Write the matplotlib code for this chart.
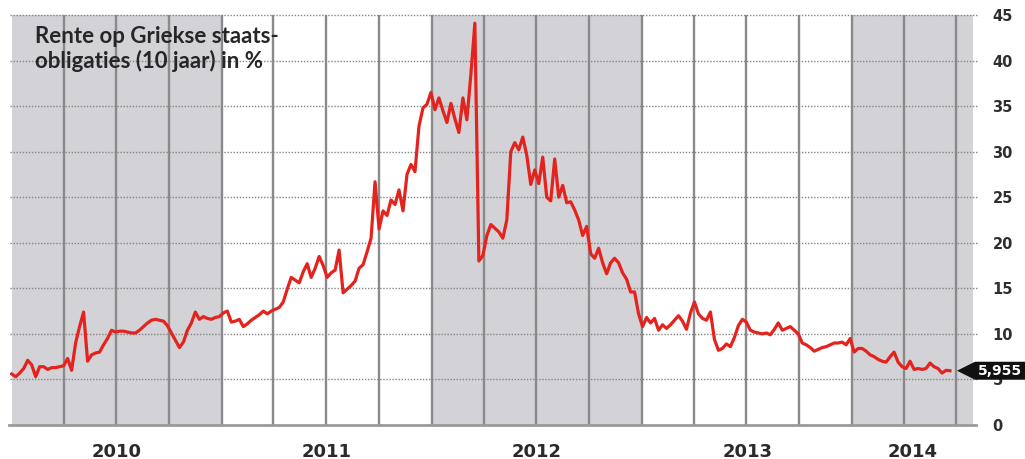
import matplotlib
matplotlib.use("Agg")
import numpy as np
import pandas as pd
import matplotlib.pyplot as plt
import matplotlib.dates as mdates
from matplotlib.patches import Polygon
from matplotlib.transforms import Affine2D, blended_transform_factory

plt.rcParams['font.family'] = ['Lato', 'DejaVu Sans']

# 10-year Greek bond yield (%), roughly weekly
rente_2010 = [5.6, 5.3, 5.7, 6.2, 7.1, 6.6, 5.3, 6.4, 6.4, 6.1, 6.3, 6.3, 6.4,
              6.5, 7.3, 6.0, 9.0, 10.8, 12.4, 7.0, 7.7, 7.9, 8.0, 8.8, 9.5, 10.4,
              10.2, 10.3, 10.3, 10.2, 10.1, 10.1, 10.4, 10.8, 11.2, 11.5, 11.6, 11.5,
              11.4, 10.9, 10.1, 9.3, 8.5, 9.1, 10.4, 11.2, 12.4, 11.6, 11.9, 11.7,
              11.6, 11.8]
rente_2011 = [11.9, 12.3, 12.5, 11.3, 11.4, 11.6, 10.8, 11.1, 11.5, 11.8, 12.1, 12.5,
              12.2, 12.5, 12.7, 12.9, 13.5, 14.9, 16.2, 15.9, 15.6, 16.8, 17.7, 16.2,
              17.2, 18.5, 17.5, 16.2, 16.7, 17.0, 19.2, 14.5, 14.9, 15.3, 15.8, 17.2,
              17.6, 19.0, 20.5, 26.7, 21.5, 23.5, 23.0, 24.7, 24.2, 25.8, 23.5, 27.5,
              28.6, 27.8, 32.8, 34.8]
rente_2012 = [35.2, 36.5, 34.6, 35.9, 34.5, 33.2, 35.3, 33.6, 32.1, 35.9, 33.5, 38.5,
              44.1, 18.0, 18.6, 20.8, 22.0, 21.6, 21.2, 20.5, 22.5, 30.0, 31.0, 30.2,
              31.6, 29.6, 26.4, 28.0, 26.5, 29.4, 25.0, 24.6, 29.2, 25.0, 26.3, 24.4,
              24.5, 23.6, 22.5, 20.8, 21.8, 18.8, 18.3, 19.4, 17.8, 16.6, 17.8, 18.3,
              17.8, 16.7, 16.0, 14.6]
rente_2013 = [14.6, 12.2, 10.8, 11.8, 11.2, 11.7, 10.4, 11.0, 10.6, 11.0, 11.5, 12.0,
              11.4, 10.5, 12.3, 13.5, 12.2, 11.7, 11.5, 12.4, 9.4, 8.2, 8.4, 8.9,
              8.6, 9.6, 10.9, 11.6, 11.3, 10.4, 10.2, 10.1, 10.0, 10.1, 9.9, 10.5,
              11.2, 10.4, 10.6, 10.8, 10.4, 10.0, 9.0, 8.8, 8.5, 8.1, 8.3, 8.5,
              8.6, 8.8, 9.0, 9.0]
rente_2014 = [9.1, 8.8, 9.5, 8.0, 8.4, 8.4, 8.1, 7.7, 7.5, 7.2, 7.0, 6.9, 7.5, 8.0,
              6.9, 6.4, 6.2, 7.0, 6.1, 6.2, 6.1, 6.2, 6.8, 6.4, 6.2, 5.7, 6.0, 5.955]

rente = rente_2010 + rente_2011 + rente_2012 + rente_2013 + rente_2014
dates = pd.date_range("2010-01-01", "2014-06-20", periods=len(rente))

years = [2010, 2011, 2012, 2013, 2014]
yticks = list(range(0, 50, 5))
last_label = "5,955"

x_start = pd.Timestamp("2009-12-29")
x_end = pd.Timestamp("2014-07-30")

fig = plt.figure(figsize=(10.25, 4.59), dpi=100)
ax = fig.add_axes([10 / 1025, 34 / 459, 963 / 1025, 410 / 459])

# grey / white bands per year
for yr in years:
    a = max(pd.Timestamp(f"{yr}-01-01"), x_start)
    b = min(pd.Timestamp(f"{yr + 1}-01-01"), x_end)
    if yr % 2 == 0:
        ax.axvspan(a, b, color="#d2d2d7", lw=0, zorder=0)

# quarter lines
for q in pd.date_range("2010-04-01", "2014-07-01", freq="QS"):
    ax.axvline(q, color="#8a8a8a", lw=1.7, zorder=1)

# dotted horizontal grid
for v in yticks[1:]:
    ax.axhline(v, xmin=0, xmax=1.004, color="#858585", lw=1.0,
               ls=(0, (1, 1.2)), zorder=2, clip_on=False)
ax.axhline(0, xmin=-0.001, xmax=1.003, color="#9a9a9a", lw=2, zorder=2, clip_on=False)

ax.plot(dates, rente, color="#e5231e", lw=2.3, zorder=3)

ax.set_xlim(x_start, x_end)
ax.set_ylim(0, 45)
for s in ax.spines.values():
    s.set_visible(False)
ax.set_xticks([])
ax.yaxis.tick_right()
ax.set_yticks(yticks)
ax.set_yticklabels([str(v) for v in yticks])
ax.tick_params(axis="y", length=0, pad=14, labelsize=10.5, labelcolor="#2e2e2e")
for t in ax.get_yticklabels():
    t.set_fontweight("bold")
    t.set_family("DejaVu Sans")

# year labels under each band
trans = blended_transform_factory(ax.transData, fig.transFigure)
for yr in years:
    a = max(pd.Timestamp(f"{yr}-01-01"), x_start)
    b = min(pd.Timestamp(f"{yr + 1}-01-01"), x_end)
    mid = a + (b - a) / 2
    ax.text(mid, 1 - 443 / 459, str(yr), transform=trans, ha="center", va="top",
            fontsize=13, fontweight="bold", color="#2a2a2a", family="DejaVu Sans")

fig.text(35 / 1025, 1 - 26 / 459, "Rente op Griekse staats-\nobligaties (10 jaar) in %",
         ha="left", va="top", fontsize=16, fontweight="bold", color="#262626",
         linespacing=1.15)

# black arrow marker with the last value
tx, ty = ax.transData.transform((mdates.date2num(dates[-1]), rente[-1]))
tx += 7
arrow = Polygon([(0, 0), (18, 9), (80, 9), (80, -9), (18, -9)], closed=True,
                fc="#111111", ec="none", zorder=10,
                transform=Affine2D().translate(tx, ty))
fig.add_artist(arrow)
fig.text((tx + 21) / 1025, ty / 459, last_label, ha="left", va="center",
         fontsize=10, fontweight="bold", color="white", zorder=11,
         family="DejaVu Sans")

fig.savefig("out.png", dpi=100, facecolor="white")
